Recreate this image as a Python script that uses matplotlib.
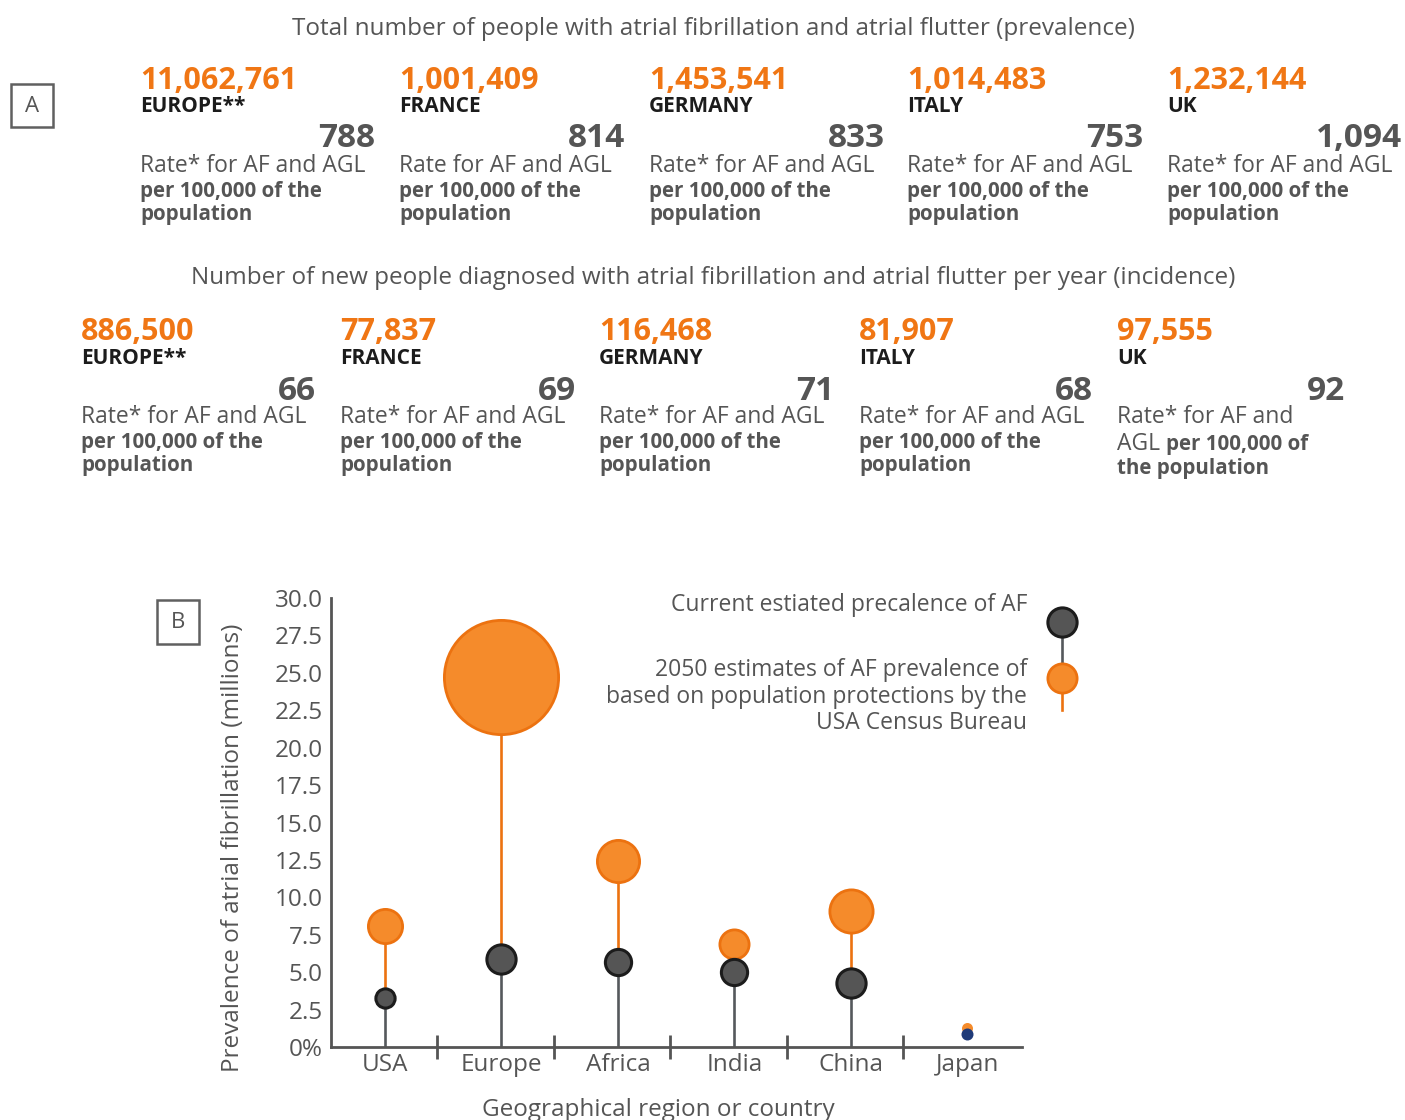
import matplotlib
matplotlib.use("Agg")
import matplotlib.pyplot as plt
from matplotlib.patches import Rectangle
from matplotlib.lines import Line2D

# ---- data -------------------------------------------------------------
regions = ["EUROPE**", "FRANCE", "GERMANY", "ITALY", "UK"]

prev_totals = [11062761, 1001409, 1453541, 1014483, 1232144]
prev_rates = [788, 814, 833, 753, 1094]
prev_rate_text = ["Rate* for AF and AGL", "Rate for AF and AGL", "Rate* for AF and AGL",
                  "Rate* for AF and AGL", "Rate* for AF and AGL"]

inc_totals = [886500, 77837, 116468, 81907, 97555]
inc_rates = [66, 69, 71, 68, 92]

places = ["USA", "Europe", "Africa", "India", "China", "Japan"]
af_now = [3.3, 5.9, 5.7, 5.0, 4.3, 0.9]        # current prevalence, millions
af_2050 = [8.1, 24.7, 12.4, 6.9, 9.1, 1.3]     # 2050 estimate, millions

# ---- style ------------------------------------------------------------
W, H = 1405, 1120
ORANGE = "#F07614"
GREY = "#555555"
DARK = "#1c1c1c"

plt.rcParams["font.family"] = ["Open Sans", "DejaVu Sans"]

fig = plt.figure(figsize=(W / 100, H / 100), dpi=100)


def put(x, y, s, **kw):
    # x, y in pixels from top-left
    kw.setdefault("color", GREY)
    kw.setdefault("va", "baseline")
    return fig.text(x / W, 1 - y / H, s, **kw)


def box(x0, y0, x1, y1, letter):
    fig.add_artist(Rectangle((x0 / W, 1 - y1 / H), (x1 - x0) / W, (y1 - y0) / H,
                             transform=fig.transFigure, fill=False, ec="#606060", lw=1.8))
    put((x0 + x1) / 2, (y0 + y1) / 2 + 1, letter, ha="center", va="center", fontsize=16)


# ---- panel A ----------------------------------------------------------
box(11, 84, 53, 127, "A")

put(713, 35, "Total number of people with atrial fibrillation and atrial flutter (prevalence)",
    ha="center", fontsize=17.5)
put(713, 284, "Number of new people diagnosed with atrial fibrillation and atrial flutter per year (incidence)",
    ha="center", fontsize=17.5)

big = 22
reg = 16.5
bld = 14.8
prev_left = [140, 399, 649, 907, 1167]
prev_right = [375, 625, 885, 1143, 1402]
for i in range(5):
    x = prev_left[i]
    put(x, 89, f"{prev_totals[i]:,}", color=ORANGE, fontsize=big, fontweight="bold")
    put(x, 112, regions[i], color=DARK, fontsize=15, fontweight="bold")
    put(prev_right[i], 147, f"{prev_rates[i]:,}", ha="right", fontsize=24, fontweight="bold")
    put(x, 172, prev_rate_text[i], fontsize=reg)
    put(x, 197, "per 100,000 of the", fontsize=bld, fontweight="bold")
    put(x, 220, "population", fontsize=bld, fontweight="bold")

inc_left = [81, 340, 599, 859, 1117]
inc_right = [316, 576, 834, 1093, 1345]
renderer = fig.canvas.get_renderer()
for i in range(5):
    x = inc_left[i]
    put(x, 340, f"{inc_totals[i]:,}", color=ORANGE, fontsize=big, fontweight="bold")
    put(x, 364, regions[i], color=DARK, fontsize=15, fontweight="bold")
    put(inc_right[i], 400, f"{inc_rates[i]:,}", ha="right", fontsize=24, fontweight="bold")
    if regions[i] == "UK":
        put(x, 423, "Rate* for AF and", fontsize=reg)
        t = put(x, 450, "AGL", fontsize=reg)
        bb = t.get_window_extent(renderer=renderer)
        put(bb.x1 + 6, 450, "per 100,000 of", fontsize=bld, fontweight="bold")
        put(x, 474, "the population", fontsize=bld, fontweight="bold")
    else:
        put(x, 423, "Rate* for AF and AGL", fontsize=reg)
        put(x, 448, "per 100,000 of the", fontsize=bld, fontweight="bold")
        put(x, 471, "population", fontsize=bld, fontweight="bold")

# ---- panel B ----------------------------------------------------------
box(157, 600, 199, 644, "B")

ax = fig.add_axes([331 / W, 1 - 1047 / H, 691 / W, 449 / H])
ax.set_ylim(0, 30)
ax.set_xlim(-0.464, 5.47)
for s in ["top", "right"]:
    ax.spines[s].set_visible(False)
for s in ["left", "bottom"]:
    ax.spines[s].set_color(GREY)
    ax.spines[s].set_linewidth(2)

xs = list(range(len(places)))
ax.set_xticks(xs)
ax.set_xticklabels(places)
ax.set_xticks([k + 0.45 for k in range(5)], minor=True)
ax.tick_params(axis="x", which="major", length=0, pad=4, labelsize=17.5, labelcolor=GREY)
ax.tick_params(axis="x", which="minor", length=17, width=2, direction="inout", color=GREY)

yt = [i * 2.5 for i in range(13)]
ax.set_yticks(yt)
ax.set_yticklabels(["0%"] + [f"{v:.1f}" for v in yt[1:]])
ax.tick_params(axis="y", length=0, pad=6, labelsize=17.5, labelcolor=GREY)

size_now = [22, 32, 29, 29, 32, 12]      # px diameters
size_2050 = [37, 117, 45, 32, 46, 11]
px2pt = 0.72

for i, name in enumerate(places):
    if name == "Japan":
        continue
    ax.plot([i, i], [0, af_now[i]], color="#55595c", lw=1.9, zorder=1)
    ax.plot([i, i], [af_now[i], af_2050[i]], color="#EC7210", lw=1.9, zorder=1)

for i, name in enumerate(places):
    if name == "Japan":
        ax.plot(i, af_2050[i], "o", ms=size_2050[i] * px2pt, mfc="#F58B2B", mec="none", zorder=2)
    else:
        ax.plot(i, af_2050[i], "o", ms=size_2050[i] * px2pt - 2, mfc="#F58B2B", mec="#EC7210",
                mew=2, zorder=2)

for i, name in enumerate(places):
    if name == "Japan":
        ax.plot(i, af_now[i], "o", ms=size_now[i] * px2pt, mfc="#1f3a78", mec="none", zorder=3)
    else:
        ax.plot(i, af_now[i], "o", ms=size_now[i] * px2pt - 2, mfc=GREY, mec=DARK,
                mew=2.2, zorder=3)

put(233, 848, "Prevalence of atrial fibrillation (millions)", ha="center", va="center",
    rotation=90, fontsize=17.5)
put(658, 1116, "Geographical region or country", ha="center", fontsize=17.5)

# legend drawn by hand
put(1027, 611, "Current estiated precalence of AF", ha="right", fontsize=16.5)
put(1027, 676, "2050 estimates of AF prevalence of", ha="right", fontsize=16.5)
put(1027, 703, "based on population protections by the", ha="right", fontsize=16.5)
put(1027, 729, "USA Census Bureau", ha="right", fontsize=16.5)

lx = 1062 / W
fig.add_artist(Line2D([lx, lx], [1 - 622 / H, 1 - 678 / H], color="#55595c", lw=1.9,
                      transform=fig.transFigure))
fig.add_artist(Line2D([lx, lx], [1 - 678 / H, 1 - 710 / H], color="#EC7210", lw=1.9,
                      transform=fig.transFigure))
fig.add_artist(Line2D([lx], [1 - 678 / H], marker="o", ms=32 * px2pt - 2, mfc="#F58B2B",
                      mec="#EC7210", mew=2, transform=fig.transFigure))
fig.add_artist(Line2D([lx], [1 - 622 / H], marker="o", ms=32 * px2pt - 2, mfc=GREY,
                      mec=DARK, mew=2.2, transform=fig.transFigure))

fig.savefig("out.png", dpi=100)
